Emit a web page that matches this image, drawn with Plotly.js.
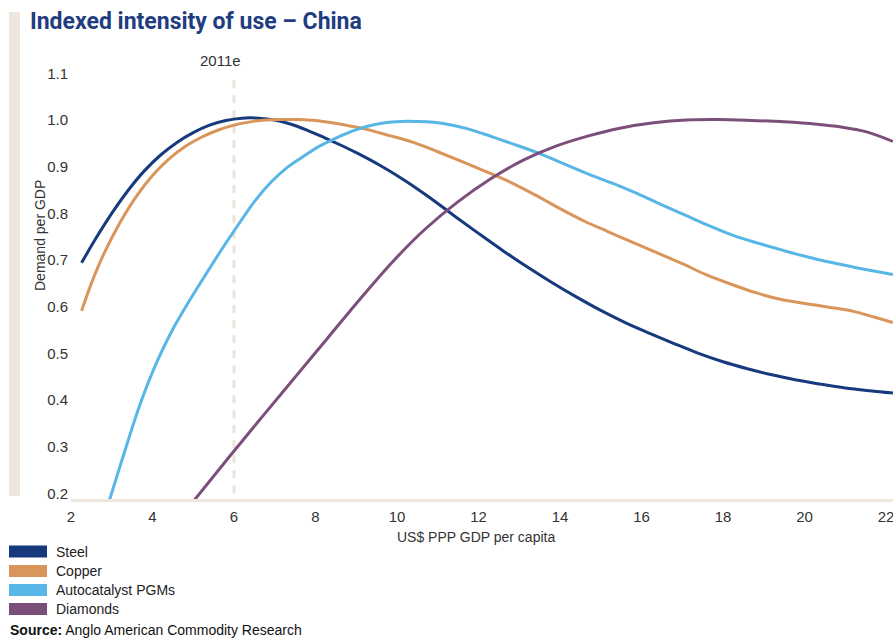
<!DOCTYPE html>
<html>
<head>
<meta charset="utf-8">
<script src="https://cdn.plot.ly/plotly-3.0.1.min.js"></script>
<style>
  html, body { margin: 0; padding: 0; background: #ffffff; }
  #chart { width: 893px; height: 638px; }
</style>
</head>
<body>
<div id="chart"></div>
<script>
// ---- Data ----
var seriesNames = ["Steel", "Copper", "Autocatalyst PGMs", "Diamonds"];

var steelX = [2.26, 2.6, 3.0, 3.4, 3.8, 4.2, 4.6, 5.0, 5.4, 5.8, 6.2, 6.6, 7.0, 7.4, 7.8, 8.2, 8.6, 9.0, 9.6, 10.2, 10.8, 11.4, 12.0, 12.6, 13.2, 13.8, 14.4, 15.0, 15.6, 16.2, 16.8, 17.4, 18.0, 18.6, 19.2, 19.8, 20.4, 21.0, 21.6, 22.17];
var steelY = [0.694, 0.745, 0.800, 0.849, 0.891, 0.925, 0.952, 0.973, 0.989, 0.999, 1.004, 1.004, 1.000, 0.991, 0.978, 0.963, 0.947, 0.930, 0.902, 0.870, 0.834, 0.795, 0.757, 0.720, 0.685, 0.652, 0.621, 0.592, 0.566, 0.543, 0.521, 0.500, 0.482, 0.467, 0.454, 0.443, 0.434, 0.426, 0.420, 0.415];

var copperX = [2.26, 2.5, 2.8, 3.2, 3.6, 4.0, 4.4, 4.8, 5.2, 5.6, 6.0, 6.4, 6.8, 7.2, 7.6, 8.0, 8.4, 8.8, 9.2, 9.8, 10.4, 11.0, 11.6, 12.2, 12.8, 13.4, 14.0, 14.6, 15.2, 15.8, 16.4, 17.0, 17.6, 18.2, 18.8, 19.4, 20.0, 20.6, 21.2, 21.7, 22.17];
var copperY = [0.591, 0.650, 0.712, 0.780, 0.836, 0.881, 0.916, 0.943, 0.963, 0.978, 0.989, 0.996, 1.000, 1.001, 1.001, 0.999, 0.994, 0.988, 0.981, 0.967, 0.952, 0.932, 0.911, 0.889, 0.866, 0.839, 0.810, 0.783, 0.760, 0.737, 0.715, 0.692, 0.668, 0.648, 0.630, 0.616, 0.607, 0.599, 0.590, 0.578, 0.566];

var pgmX = [2.95, 3.3, 3.7, 4.1, 4.5, 4.9, 5.3, 5.7, 6.1, 6.5, 6.9, 7.3, 7.7, 8.1, 8.5, 8.9, 9.3, 9.7, 10.1, 10.5, 10.9, 11.3, 11.7, 12.1, 12.5, 12.9, 13.5, 14.1, 14.7, 15.3, 15.9, 16.5, 17.1, 17.7, 18.3, 18.9, 19.5, 20.1, 20.7, 21.3, 21.8, 22.17];
var pgmY = [0.187, 0.285, 0.392, 0.480, 0.552, 0.612, 0.668, 0.723, 0.775, 0.825, 0.866, 0.898, 0.922, 0.944, 0.961, 0.976, 0.987, 0.994, 0.997, 0.997, 0.995, 0.990, 0.982, 0.971, 0.959, 0.947, 0.928, 0.906, 0.884, 0.864, 0.842, 0.818, 0.795, 0.772, 0.751, 0.735, 0.720, 0.706, 0.694, 0.683, 0.675, 0.669];

var diamondsX = [5.04, 5.9, 6.7, 7.5, 8.3, 9.1, 9.9, 10.7, 11.5, 12.3, 13.1, 13.9, 14.7, 15.5, 16.3, 17.1, 17.9, 18.7, 19.5, 20.3, 20.9, 21.5, 22.17];
var diamondsY = [0.187, 0.280, 0.365, 0.449, 0.533, 0.617, 0.697, 0.767, 0.825, 0.874, 0.914, 0.944, 0.966, 0.983, 0.994, 1.000, 1.001, 0.999, 0.996, 0.991, 0.985, 0.975, 0.954];

var xTicks = [2, 4, 6, 8, 10, 12, 14, 16, 18, 20, 22];
var yTicks = [0.2, 0.3, 0.4, 0.5, 0.6, 0.7, 0.8, 0.9, 1.0, 1.1];
var markerYear = 6;          // 2011e position on x axis
var markerLabel = "2011e";
var markerSpan = [0.2, 1.1];

// ---- Styling ----
var colors = ["#163a7d", "#d9955a", "#58b6e6", "#7c4f7b"];
var beige = "#eee7df";
var textFont = "Liberation Sans, Arial, sans-serif";

var W = 893, H = 638;
var mL = 71, mR = 0, mT = 60, mB = 139;
var plotW = W - mL - mR, plotH = H - mT - mB;
function px2paperX(px) { return (px - mL) / plotW; }
function py2paperY(py) { return (H - mB - py) / plotH; }

var xs = [steelX, copperX, pgmX, diamondsX];
var ys = [steelY, copperY, pgmY, diamondsY];

var traces = [];
// 2011e dashed marker line
traces.push({
  x: [markerYear, markerYear], y: markerSpan, mode: "lines",
  line: {color: "#ebe3da", width: 3, dash: "8px,7px"},
  hoverinfo: "skip", showlegend: false
});
for (var i = 0; i < seriesNames.length; i++) {
  traces.push({
    x: xs[i], y: ys[i], name: seriesNames[i], mode: "lines",
    line: {color: colors[i], width: 3, shape: "spline", smoothing: 1},
    showlegend: false
  });
}

var shapes = [];
var annotations = [];

// left decorative bar
shapes.push({type: "rect", xref: "paper", yref: "paper",
  x0: px2paperX(9), x1: px2paperX(20), y0: py2paperY(496), y1: py2paperY(12),
  fillcolor: beige, line: {width: 0}, layer: "below"});

// legend (swatches + labels)
var rowCenters = [551.5, 571, 590, 609];
for (var k = 0; k < seriesNames.length; k++) {
  shapes.push({type: "rect", xref: "paper", yref: "paper",
    x0: px2paperX(9), x1: px2paperX(47),
    y0: py2paperY(rowCenters[k] + 6), y1: py2paperY(rowCenters[k] - 6),
    fillcolor: colors[k], line: {width: 0}});
  annotations.push({xref: "paper", yref: "paper", x: px2paperX(54), y: py2paperY(rowCenters[k]),
    xanchor: "left", yanchor: "middle", showarrow: false, text: seriesNames[k],
    font: {family: textFont, size: 14, color: "#222"}});
}

// marker label
annotations.push({xref: "x", yref: "paper", x: markerYear, y: py2paperY(60), xshift: -14,
  xanchor: "center", yanchor: "middle", showarrow: false, text: markerLabel,
  font: {family: textFont, size: 15, color: "#333"}});

// y axis title
annotations.push({xref: "paper", yref: "paper", x: px2paperX(40), y: py2paperY(236),
  xanchor: "center", yanchor: "middle", showarrow: false, textangle: -90,
  text: "Demand per GDP", font: {family: textFont, size: 14, color: "#333"}});

// x axis title
annotations.push({xref: "paper", yref: "paper", x: px2paperX(476), y: py2paperY(537),
  xanchor: "center", yanchor: "middle", showarrow: false,
  text: "US$ PPP GDP per capita", font: {family: textFont, size: 14, color: "#333"}});

// source
annotations.push({xref: "paper", yref: "paper", x: px2paperX(8), y: py2paperY(620),
  xanchor: "left", yanchor: "top", showarrow: false,
  text: "<b>Source:</b> Anglo American Commodity Research",
  font: {family: textFont, size: 14, color: "#111"}});

var layout = {
  width: W, height: H,
  margin: {l: mL, r: mR, t: mT, b: mB, pad: 0},
  paper_bgcolor: "#ffffff", plot_bgcolor: "#ffffff",
  showlegend: false,
  title: {
    text: "<b>Indexed intensity of use – China</b>",
    xref: "container", yref: "container",
    x: 30 / W, xanchor: "left", y: 1 - 21 / H, yanchor: "middle",
    font: {family: "Roboto, sans-serif", size: 23, color: "#1f3d80"}
  },
  xaxis: {
    range: [2, 2 + plotW / 40.75],
    tickvals: xTicks, ticktext: xTicks.map(String),
    showgrid: false, zeroline: false,
    showline: true, linecolor: beige, linewidth: 3,
    ticks: "", ticklabelstandoff: 2, ticklabeloverflow: "allow",
    tickfont: {family: textFont, size: 15, color: "#333"}
  },
  yaxis: {
    range: [1.0 - (H - mB - 120) / 466.7, 1.0 + (120 - mT) / 466.7],
    tickvals: yTicks, ticktext: yTicks.map(function (v) { return v.toFixed(1); }),
    showgrid: false, zeroline: false, showline: false,
    ticks: "", ticklabelstandoff: 2,
    tickfont: {family: textFont, size: 15, color: "#333"}
  },
  shapes: shapes,
  annotations: annotations
};

Plotly.newPlot("chart", traces, layout, {displayModeBar: false, staticPlot: true});
</script>
</body>
</html>
